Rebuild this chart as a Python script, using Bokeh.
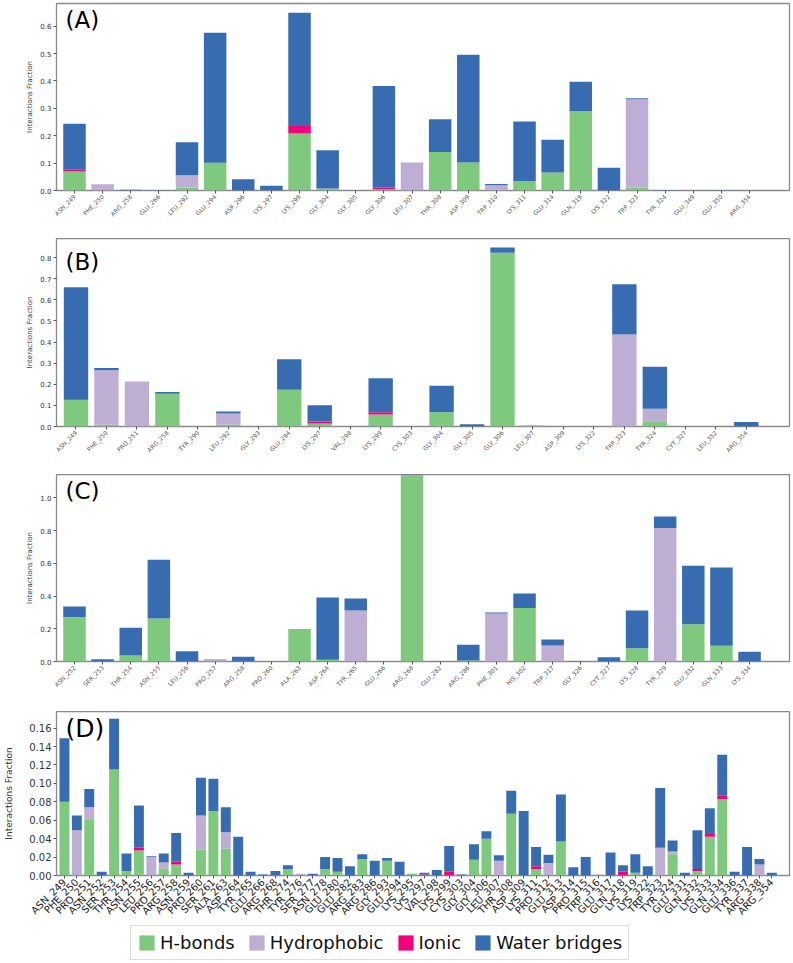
import math
from bokeh.plotting import figure
from bokeh.models import (Range1d, FixedTicker, PrintfTickFormatter, Label, Legend,
                          LegendItem, ColumnDataSource)
from bokeh.layouts import column
from bokeh.embed import file_html
from bokeh.resources import INLINE

# ---------------- data ----------------
SERIES = ["H-bonds", "Hydrophobic", "Ionic", "Water bridges"]
COLORS = ["#7fc97f", "#beaed4", "#f0027f", "#386cb0"]

A_residues = ["ASN_249", "PHE_250", "ARG_258", "GLU_266", "LEU_292", "GLU_294", "ASP_296",
              "LYS_297", "LYS_299", "GLY_304", "GLY_305", "GLY_306", "LEU_307", "THR_308",
              "ASP_309", "TRP_310", "LYS_311", "GLU_314", "GLN_319", "LYS_322", "TRP_323",
              "TYR_324", "GLU_349", "GLU_350", "ARG_354"]
A_hbonds = [0.070, 0, 0, 0, 0.011, 0.101, 0, 0, 0.208, 0.007, 0, 0.005, 0, 0.141,
            0.102, 0, 0.035, 0.066, 0.289, 0, 0.011, 0, 0, 0, 0]
A_hydrophobic = [0, 0.023, 0, 0, 0.045, 0, 0, 0, 0, 0, 0, 0, 0.102, 0,
                 0, 0.019, 0, 0, 0, 0, 0.322, 0, 0, 0, 0]
A_ionic = [0.006, 0, 0, 0, 0, 0, 0, 0, 0.028, 0, 0, 0.006, 0, 0,
           0, 0, 0, 0, 0, 0, 0, 0, 0, 0, 0]
A_water = [0.168, 0, 0.003, 0.001, 0.120, 0.475, 0.041, 0.017, 0.413, 0.140, 0, 0.371, 0, 0.119,
           0.394, 0.005, 0.217, 0.119, 0.108, 0.083, 0.004, 0.002, 0, 0.001, 0]

B_residues = ["ASN_249", "PHE_250", "PRO_251", "ARG_258", "TYR_290", "LEU_292", "GLY_293",
              "GLU_294", "LYS_297", "VAL_298", "LYS_299", "CYS_303", "GLY_304", "GLY_305",
              "GLY_306", "LEU_307", "ASP_309", "LYS_322", "TRP_323", "TYR_324", "CYT_327",
              "LEU_352", "ARG_354"]
B_hbonds = [0.126, 0.008, 0, 0.155, 0, 0.008, 0, 0.174, 0.014, 0, 0.057, 0, 0.068, 0,
            0.822, 0, 0, 0, 0, 0.025, 0, 0, 0]
B_hydrophobic = [0, 0.258, 0.213, 0, 0, 0.054, 0, 0, 0, 0, 0, 0, 0, 0,
                 0, 0.006, 0, 0, 0.436, 0.059, 0, 0, 0]
B_ionic = [0.003, 0, 0, 0, 0, 0, 0, 0, 0.010, 0, 0.011, 0, 0, 0,
           0, 0, 0, 0, 0, 0, 0, 0, 0]
B_water = [0.530, 0.011, 0, 0.008, 0, 0.009, 0, 0.144, 0.077, 0, 0.161, 0, 0.125, 0.011,
           0.025, 0, 0, 0, 0.237, 0.199, 0, 0, 0.021]

C_residues = ["ASN_252", "SER_253", "THR_254", "ASN_255", "LEU_256", "PRO_257", "ARG_258",
              "PRO_260", "ALA_263", "ASP_264", "TYR_265", "GLU_266", "ARG_268", "GLU_282",
              "ARG_286", "PHE_301", "HIS_302", "TRP_317", "GLY_326", "CYT_327", "LYS_328",
              "TYR_329", "GLU_332", "GLN_333", "LYS_334"]
C_hbonds = [0.271, 0, 0.037, 0.263, 0, 0, 0, 0, 0.198, 0.010, 0, 0, 1.20, 0,
            0.006, 0, 0.326, 0, 0, 0, 0.081, 0, 0.228, 0.096, 0]
C_hydrophobic = [0, 0, 0, 0, 0, 0.016, 0, 0, 0, 0, 0.312, 0, 0, 0,
                 0, 0.293, 0, 0.098, 0, 0, 0, 0.815, 0, 0, 0]
C_ionic = [0] * 25
C_water = [0.065, 0.014, 0.169, 0.358, 0.063, 0, 0.029, 0, 0, 0.381, 0.073, 0, 0, 0.002,
           0.096, 0.006, 0.089, 0.036, 0.002, 0.026, 0.231, 0.071, 0.357, 0.478, 0.059]

D_residues = ["ASN_249", "PHE_250", "PRO_251", "ASN_252", "SER_253", "THR_254", "ASN_255",
              "LEU_256", "PRO_257", "ARG_258", "ASN_259", "PRO_260", "SER_261", "ALA_263",
              "ASP_264", "TYR_265", "GLU_266", "ARG_268", "THR_274", "TYR_276", "SER_277",
              "ASN_278", "GLU_280", "GLU_282", "ARG_283", "ARG_286", "GLY_293", "GLU_294",
              "LYS_295", "LYS_297", "VAL_298", "LYS_299", "CYS_303", "GLY_304", "GLY_306",
              "LEU_307", "THR_308", "ASP_309", "LYS_311", "PRO_312", "GLU_313", "ASP_314",
              "PRO_315", "TRP_316", "GLU_317", "GLN_318", "LYS_319", "LYS_322", "TRP_323",
              "TYR_324", "GLU_331", "GLN_332", "LYS_333", "GLN_334", "GLU_336", "TYR_337",
              "ARG_338", "ARG_354"]
D_hbonds = [0.080, 0, 0.061, 0, 0.115, 0.005, 0.027, 0, 0.008, 0.012, 0, 0.028, 0.070, 0.029,
            0, 0, 0, 0, 0.007, 0, 0, 0.007, 0.004, 0, 0.018, 0, 0.016, 0,
            0.002, 0, 0, 0, 0, 0.017, 0.040, 0, 0.067, 0, 0.007, 0, 0.037, 0,
            0, 0, 0, 0, 0.003, 0, 0, 0.023, 0, 0.005, 0.042, 0.083, 0, 0,
            0, 0]
D_hydrophobic = [0, 0.049, 0.013, 0, 0, 0, 0, 0.020, 0.006, 0, 0, 0.037, 0, 0.018,
                 0, 0, 0, 0, 0, 0.002, 0, 0, 0, 0, 0, 0, 0, 0,
                 0, 0, 0, 0, 0, 0, 0, 0.016, 0, 0, 0, 0.0135, 0, 0,
                 0, 0.001, 0, 0, 0, 0, 0.030, 0.003, 0, 0, 0, 0, 0, 0,
                 0.012, 0]
D_ionic = [0, 0, 0, 0, 0, 0, 0.003, 0, 0, 0.003, 0, 0, 0, 0,
           0, 0, 0, 0, 0, 0, 0, 0, 0, 0, 0, 0, 0, 0,
           0, 0.001, 0, 0.004, 0, 0, 0, 0, 0, 0, 0.003, 0, 0, 0,
           0, 0, 0, 0.004, 0, 0, 0, 0, 0, 0.002, 0.003, 0.004, 0, 0,
           0, 0]
D_water = [0.069, 0.016, 0.020, 0.004, 0.055, 0.019, 0.046, 0.001, 0.010, 0.031, 0.003, 0.041, 0.035, 0.027,
           0.042, 0.004, 0.001, 0.005, 0.004, 0, 0.002, 0.013, 0.015, 0.010, 0.005, 0.016, 0.003, 0.015,
           0, 0.002, 0.006, 0.028, 0.001, 0.017, 0.008, 0.006, 0.025, 0.070, 0.021, 0.009, 0.051, 0.009,
           0.020, 0, 0.025, 0.007, 0.020, 0.010, 0.065, 0.012, 0.003, 0.042, 0.028, 0.044, 0.004, 0.031,
           0.006, 0.003]

FONT = "DejaVu Sans"
W = 793


def make_panel(tag, residues, hb, hp, io, wb, ymax, yticks, fmt, height, top, bottom, left,
               right, xfont, yfont, lfont, tagfont, tag_dy, xcolor, ylab_standoff):
    n = len(residues)
    src = ColumnDataSource(dict(x=list(range(n)), hb=hb, hp=hp, io=io, wb=wb))
    p = figure(width=W, height=height, toolbar_location=None, output_backend="svg",
               x_range=Range1d(-0.64, n - 1 + 1.42), y_range=Range1d(0, ymax),
               min_border_top=top, min_border_right=right, min_border_left=left,
               min_border_bottom=bottom)
    p.vbar_stack(["hb", "hp", "io", "wb"], x="x", width=0.8, color=COLORS,
                 source=src, line_color=None)
    p.xgrid.grid_line_color = None
    p.ygrid.grid_line_color = None
    p.outline_line_color = "#8a8a8a"
    p.outline_line_width = 1.3
    p.background_fill_color = "white"

    xa = p.xaxis[0]
    xa.ticker = FixedTicker(ticks=list(range(n)))
    xa.major_label_overrides = {i: r for i, r in enumerate(residues)}
    xa.major_label_orientation = math.pi / 4
    xa.major_label_text_font = FONT
    xa.major_label_text_font_size = xfont
    xa.major_label_text_color = xcolor
    xa.major_label_standoff = 2
    xa.axis_line_color = None
    xa.major_tick_line_color = "#555555"
    xa.major_tick_out = 3
    xa.major_tick_in = 0
    xa.minor_tick_line_color = None

    ya = p.yaxis[0]
    ya.ticker = FixedTicker(ticks=yticks)
    ya.formatter = PrintfTickFormatter(format=fmt)
    ya.major_label_text_font = FONT
    ya.major_label_text_font_size = yfont
    ya.major_label_text_color = "#333333"
    ya.major_label_standoff = 2
    ya.axis_line_color = None
    ya.major_tick_line_color = "#555555"
    ya.major_tick_out = 3
    ya.major_tick_in = 0
    ya.minor_tick_line_color = None
    ya.axis_label = "Interactions Fraction"
    ya.axis_label_text_font = FONT
    ya.axis_label_text_font_size = lfont
    ya.axis_label_text_font_style = "normal"
    ya.axis_label_text_color = "#333333"
    ya.axis_label_standoff = ylab_standoff

    p.add_layout(Label(x=-0.64, y=ymax, x_offset=9, y_offset=tag_dy, text=tag,
                       text_baseline="top", text_font=FONT, text_font_size=tagfont,
                       text_color="black"))
    return p


pA = make_panel("(A)", A_residues, A_hbonds, A_hydrophobic, A_ionic, A_water,
                0.683, [0, 0.1, 0.2, 0.3, 0.4, 0.5, 0.6], "%.1f", 238, 3, 48, 54, 4,
                "6px", "7px", "7px", "23px", -3, "#555555", 3)
pB = make_panel("(B)", B_residues, B_hbonds, B_hydrophobic, B_ionic, B_water,
                0.89, [0, 0.1, 0.2, 0.3, 0.4, 0.5, 0.6, 0.7, 0.8], "%.1f", 236, 0, 48, 54, 4,
                "6px", "7px", "7px", "23px", -10, "#555555", 3)
pC = make_panel("(C)", C_residues, C_hbonds, C_hydrophobic, C_ionic, C_water,
                1.142, [0, 0.2, 0.4, 0.6, 0.8, 1.0], "%.1f", 237, 0, 50, 54, 4,
                "6px", "7px", "7px", "23px", -3, "#555555", 3)
pD = make_panel("(D)", D_residues, D_hbonds, D_hydrophobic, D_ionic, D_water,
                0.178, [0, 0.02, 0.04, 0.06, 0.08, 0.10, 0.12, 0.14, 0.16], "%.2f", 212, 0, 46, 56, 3,
                "10px", "10px", "9px", "25px", -2, "#222222", 12)

# legend strip (zero-height proxy bars only carry the legend swatches)
pL = figure(width=W, height=40, toolbar_location=None, output_backend="svg",
            x_range=Range1d(0, 1), y_range=Range1d(0, 1), min_border=0,
            x_axis_location=None, y_axis_location=None)
pL.outline_line_color = None
pL.xgrid.grid_line_color = None
pL.ygrid.grid_line_color = None
items = []
for name, col in zip(SERIES, COLORS):
    proxy = ColumnDataSource(dict(x=[0.5], top=[0]))
    r = pL.vbar(x="x", top="top", width=0, source=proxy, fill_color=col, line_color=None)
    items.append(LegendItem(label=name, renderers=[r]))
leg = Legend(items=items, orientation="horizontal", location=(74, 3),
             label_text_font=FONT, label_text_font_size="18px", label_text_color="#111111",
             glyph_width=19, glyph_height=19, label_height=20, label_standoff=4,
             spacing=12, padding=6, margin=0, border_line_color="#bbbbbb",
             border_line_width=1.5, background_fill_color="white")
pL.add_layout(leg)

layout = column(pA, pB, pC, pD, pL, spacing=0)
open("out.html", "w").write(file_html(layout, INLINE))
